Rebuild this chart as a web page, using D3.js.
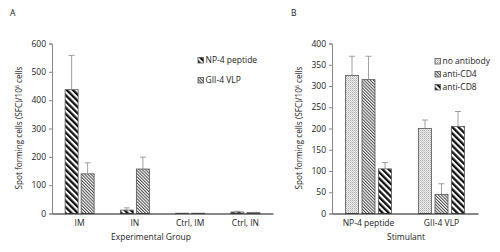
<!DOCTYPE html>
<html>
<head>
<meta charset="utf-8">
<script src="https://cdn.jsdelivr.net/npm/d3@7"></script>
<style>
  body { margin: 0; background: #fff; }
  svg text { font-family: "Open Sans", sans-serif; fill: #222; }
</style>
</head>
<body>
<div id="chart"></div>
<script>
// Panel A data
const groupsA = ["IM", "IN", "Ctrl, IM", "Ctrl, IN"];
const seriesA = ["NP-4 peptide", "GII-4 VLP"];
const np4Values = [437, 12, 1, 5];
const np4Errors = [121, 8, 0, 3];
const vlpValues = [140, 157, 1, 3];
const vlpErrors = [39, 42, 0, 1];
const ticksA = [0, 100, 200, 300, 400, 500, 600];

// Panel B data
const groupsB = ["NP-4 peptide", "GII-4 VLP"];
const seriesB = ["no antibody", "anti-CD4", "anti-CD8"];
const noAbValues = [325, 200];
const noAbErrors = [45, 20];
const cd4Values = [315, 45];
const cd4Errors = [55, 25];
const cd8Values = [105, 205];
const cd8Errors = [15, 35];
const ticksB = [0, 50, 100, 150, 200, 250, 300, 350, 400];

const width = 500, height = 252;

const svg = d3.select("#chart")
  .append("svg")
  .attr("width", width)
  .attr("height", height);

// fill patterns
const defs = svg.append("defs");

const wide = defs.append("pattern")
  .attr("id", "wide")
  .attr("patternUnits", "userSpaceOnUse")
  .attr("width", 4.4).attr("height", 4.4)
  .attr("patternTransform", "rotate(-45)");
wide.append("rect").attr("width", 4.4).attr("height", 4.4).attr("fill", "#fff");
wide.append("rect").attr("width", 2.3).attr("height", 4.4).attr("fill", "#111");

const dense = defs.append("pattern")
  .attr("id", "dense")
  .attr("patternUnits", "userSpaceOnUse")
  .attr("width", 2.2).attr("height", 2.2)
  .attr("patternTransform", "rotate(-45)");
dense.append("rect").attr("width", 2.2).attr("height", 2.2).attr("fill", "#fff");
dense.append("rect").attr("width", 1).attr("height", 2.2).attr("fill", "#444");

const dots = defs.append("pattern")
  .attr("id", "dots")
  .attr("patternUnits", "userSpaceOnUse")
  .attr("width", 2).attr("height", 2);
dots.append("rect").attr("width", 2).attr("height", 2).attr("fill", "#eee");
dots.append("rect").attr("width", 1).attr("height", 1).attr("fill", "#aaa");
dots.append("rect").attr("x", 1).attr("y", 1).attr("width", 1).attr("height", 1).attr("fill", "#ccc");

function drawPanel(opt) {
  const g = svg.append("g");

  const y = d3.scaleLinear()
    .domain([0, opt.max])
    .range([213.5, 43.5]);

  const x0 = d3.scaleBand()
    .domain(opt.groups)
    .range([opt.left, opt.right]);

  const n = opt.series.length;
  const step = opt.barW + opt.gap;
  const pi = opt.gap / step;
  const po = (x0.bandwidth() / step - (n - pi)) / 2;
  const x1 = d3.scaleBand()
    .domain(opt.series)
    .range([0, x0.bandwidth()])
    .paddingInner(pi)
    .paddingOuter(po);

  // y axis
  const yAxis = g.append("g")
    .attr("transform", "translate(" + opt.left + ",0)")
    .call(d3.axisLeft(y).tickValues(opt.ticks).tickSize(3).tickPadding(3));
  yAxis.select(".domain").attr("stroke", "#888");
  yAxis.selectAll(".tick line").attr("stroke", "#888");
  yAxis.selectAll(".tick text").attr("font-size", 8.5).attr("font-family", "Open Sans").attr("fill", "#222");

  // bars
  const rows = [];
  opt.groups.forEach(function(grp, i) {
    opt.series.forEach(function(s, j) {
      rows.push({ grp: grp, s: s, v: opt.values[j][i], e: opt.errors[j][i], fill: opt.fills[j] });
    });
  });

  g.selectAll(".bar")
    .data(rows)
    .join("rect")
    .attr("x", d => x0(d.grp) + x1(d.s))
    .attr("y", d => y(d.v))
    .attr("width", x1.bandwidth())
    .attr("height", d => y(0) - y(d.v))
    .attr("fill", d => "url(#" + d.fill + ")")
    .attr("stroke", "#555")
    .attr("stroke-width", 0.8);

  // error bars (positive only)
  const eb = g.selectAll(".err")
    .data(rows.filter(d => d.e > 0))
    .join("g")
    .attr("stroke", "#888")
    .attr("stroke-width", 0.8);
  eb.append("line")
    .attr("x1", d => x0(d.grp) + x1(d.s) + x1.bandwidth() / 2)
    .attr("x2", d => x0(d.grp) + x1(d.s) + x1.bandwidth() / 2)
    .attr("y1", d => y(d.v))
    .attr("y2", d => y(d.v + d.e));
  eb.append("line")
    .attr("x1", d => x0(d.grp) + x1(d.s) + x1.bandwidth() / 2 - 3)
    .attr("x2", d => x0(d.grp) + x1(d.s) + x1.bandwidth() / 2 + 3)
    .attr("y1", d => y(d.v + d.e))
    .attr("y2", d => y(d.v + d.e));

  // x axis
  const xAxis = g.append("g")
    .attr("transform", "translate(0," + y(0) + ")")
    .call(d3.axisBottom(x0).tickSize(0).tickPadding(6));
  xAxis.select(".domain").attr("stroke", "#111").attr("stroke-width", 1.2);
  xAxis.selectAll(".tick text").attr("font-size", 8.5).attr("font-family", "Open Sans").attr("fill", "#222");

  // titles
  g.append("text")
    .attr("x", opt.xTitleX)
    .attr("y", 240)
    .attr("text-anchor", "middle")
    .attr("font-size", 8.5)
    .text(opt.xTitle);

  const yt = g.append("text")
    .attr("transform", "translate(" + opt.yTitleX + ",128) rotate(-90)")
    .attr("text-anchor", "middle")
    .attr("font-size", 8.2);
  yt.append("tspan").text("Spot forming cells (SFC)/10");
  yt.append("tspan").attr("font-size", 5).attr("dy", -3).text("6");
  yt.append("tspan").attr("dy", 3).text(" cells");

  g.append("text")
    .attr("x", opt.letterX)
    .attr("y", 16)
    .attr("font-size", 8.5)
    .text(opt.letter);

  // legend
  const lg = g.selectAll(".legend")
    .data(opt.series)
    .join("g")
    .attr("transform", (d, i) => "translate(" + opt.legendX + "," + (opt.legendY + i * opt.legendStep) + ")");
  lg.append("rect")
    .attr("x", 0).attr("y", -5.5)
    .attr("width", 5.5).attr("height", 5.5)
    .attr("fill", (d, i) => "url(#" + opt.fills[i] + ")")
    .attr("stroke", "#555")
    .attr("stroke-width", 0.8);
  lg.append("text")
    .attr("x", 7.5)
    .attr("y", 0)
    .attr("font-size", 8.5)
    .text(d => d);
}

drawPanel({
  groups: groupsA, series: seriesA,
  values: [np4Values, vlpValues], errors: [np4Errors, vlpErrors],
  fills: ["wide", "dense"],
  max: 600, ticks: ticksA,
  left: 52, right: 273, barW: 13, gap: 3,
  xTitle: "Experimental Group", xTitleX: 151, yTitleX: 22,
  letter: "A", letterX: 10,
  legendX: 198, legendY: 63, legendStep: 20
});

drawPanel({
  groups: groupsB, series: seriesB,
  values: [noAbValues, cd4Values, cd8Values], errors: [noAbErrors, cd4Errors, cd8Errors],
  fills: ["dots", "dense", "wide"],
  max: 400, ticks: ticksB,
  left: 332, right: 478, barW: 13, gap: 3.5,
  xTitle: "Stimulant", xTitleX: 406, yTitleX: 302,
  letter: "B", letterX: 291,
  legendX: 435, legendY: 64, legendStep: 13
});
</script>
</body>
</html>
